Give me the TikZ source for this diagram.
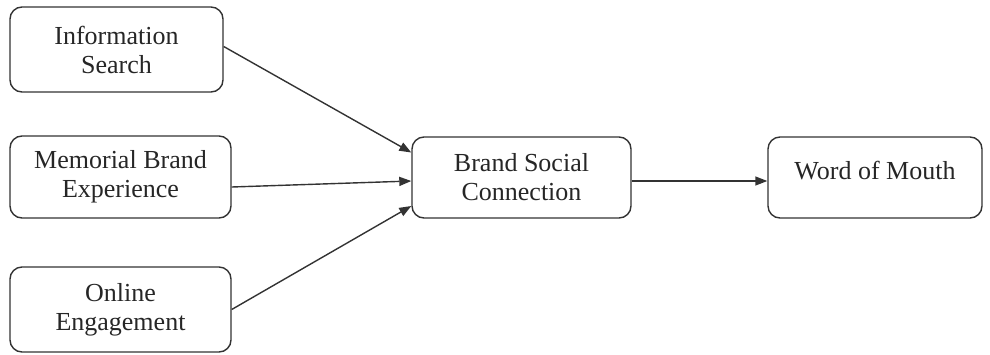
\documentclass[tikz,border=0pt]{standalone}
\usepackage{fontspec}
\setmainfont{Liberation Serif}
\usepackage{tikz}
\usetikzlibrary{arrows.meta, calc}

\begin{document}
\begin{tikzpicture}[x=0.5pt, y=-0.5pt,
  box/.style={draw=black!80, line width=0.7pt, rounded corners=6pt, align=center,
    font=\fontsize{13}{14.5}\selectfont, text=black!85},
  link/.style={draw=black!80, line width=0.7pt, -{Triangle[length=6pt,width=4.5pt]}}]
\useasboundingbox (0,0) rectangle (990,354);
\node[box, minimum width=106.5pt, minimum height=42.5pt] (search) at (116.5,49.5) {Information\\Search};
\node[box, minimum width=110.5pt, minimum height=41pt] (memorial) at (120.5,177) {Memorial Brand\\Experience};
\node[box, minimum width=110.5pt, minimum height=42.5pt] (online) at (120.5,309.5) {Online\\Engagement};
\node[box, minimum width=109.5pt, minimum height=40.5pt] (social) at (521.5,177.5) {Brand Social\\Connection};
\node[box, minimum width=107pt, minimum height=40.5pt, text depth=7.5pt] (mouth) at (875,177.5) {Word of Mouth};
\draw[link] ($(search.east)+(0,-3)$) -- ($(social.west)+(0,-25)$);
\draw[link] ($(memorial.east)+(0,10)$) -- ($(social.west)+(0,3.5)$);
\draw[link] (online.east) -- ($(social.west)+(0,28.5)$);
\draw[link] ($(social.east)+(0,3.5)$) -- ($(mouth.west)+(0,3.5)$);
\end{tikzpicture}
\end{document}
